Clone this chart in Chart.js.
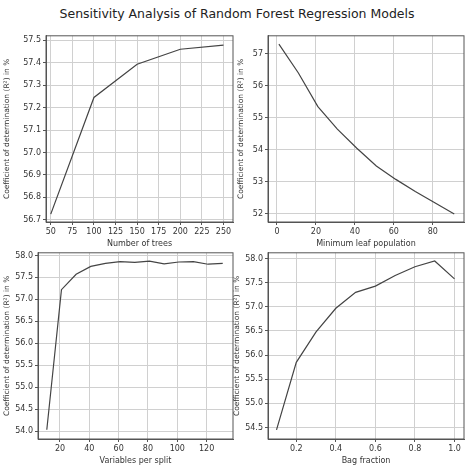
<!DOCTYPE html>
<html lang="en">
<head>
<meta charset="UTF-8">
<title>Sensitivity Analysis</title>
<script src="https://cdn.jsdelivr.net/npm/chart.js"></script>
<style>
  body { margin: 0; background: #fff; width: 474px; height: 467px; position: relative; overflow: hidden; font-family: "DejaVu Sans", sans-serif; }
  #title { position: absolute; top: 6px; left: 0; width: 474px; text-align: center; font-size: 12.5px; color: #222; }
  .panel { position: absolute; }
</style>
</head>
<body>
<div id="title">Sensitivity Analysis of Random Forest Regression Models</div>
<div class="panel" id="p1"><canvas id="c1"></canvas></div>
<div class="panel" id="p2"><canvas id="c2"></canvas></div>
<div class="panel" id="p3"><canvas id="c3"></canvas></div>
<div class="panel" id="p4"><canvas id="c4"></canvas></div>
<script>
// data
const treesX = [50, 100, 150, 200, 250];
const treesY = [56.725, 57.245, 57.393, 57.46, 57.478];

const leafX = [1, 11, 21, 31, 41, 51, 61, 71, 81, 91];
const leafY = [57.3, 56.4, 55.35, 54.65, 54.05, 53.5, 53.08, 52.7, 52.35, 52.0];

const varsX = [11, 21, 31, 41, 51, 61, 71, 81, 91, 101, 111, 121, 131];
const varsY = [54.03, 57.22, 57.57, 57.75, 57.82, 57.86, 57.84, 57.87, 57.81, 57.85, 57.86, 57.8, 57.82];

const bagX = [0.1, 0.2, 0.3, 0.4, 0.5, 0.6, 0.7, 0.8, 0.9, 1.0];
const bagY = [54.45, 55.85, 56.48, 56.97, 57.3, 57.43, 57.65, 57.83, 57.95, 57.58];

const yLabel = 'Coefficient of determination (R²) in %';

const boxPlugin = {
  id: 'box',
  afterDraw(chart) {
    const a = chart.chartArea, c = chart.ctx;
    c.save();
    c.strokeStyle = '#555';
    c.lineWidth = 1;
    c.strokeRect(a.left, a.top, a.right - a.left, a.bottom - a.top);
    c.restore();
  }
};

// every multiple of step inside the axis range
function onStep(step) {
  return function (axis) {
    const ticks = [];
    for (let k = Math.ceil(axis.min / step - 1e-9); k * step <= axis.max + 1e-9; k++) {
      ticks.push({ value: Math.round(k * step * 1e6) / 1e6 });
    }
    axis.ticks = ticks;
  };
}

function makePanel(id, canvasId, plot, yw, xs, ys, xOpt, yOpt, xTitle, yDigits) {
  const xh = 28;
  const el = document.getElementById(id);
  el.style.left = (plot.left - yw) + 'px';
  el.style.top = (plot.top - 3) + 'px';
  el.style.width = (plot.w + yw + 3) + 'px';
  el.style.height = (plot.h + xh + 3) + 'px';
  const tickFont = { family: 'DejaVu Sans', size: 8 };
  new Chart(document.getElementById(canvasId), {
    type: 'line',
    data: {
      datasets: [{
        data: xs.map((x, i) => ({ x: x, y: ys[i] })),
        borderColor: '#444',
        borderWidth: 1.2,
        pointRadius: 0,
        tension: 0
      }]
    },
    options: {
      responsive: true,
      maintainAspectRatio: false,
      animation: false,
      layout: { padding: { top: 3, right: 3 } },
      plugins: { legend: { display: false }, tooltip: { enabled: false } },
      scales: {
        x: {
          type: 'linear', min: xOpt.min, max: xOpt.max,
          afterBuildTicks: onStep(xOpt.step),
          afterFit: s => { s.height = xh; },
          ticks: { color: '#333', font: tickFont, maxRotation: 0, autoSkip: false, padding: 2,
                   callback: v => (xOpt.step < 1 ? v.toFixed(1) : String(v)) },
          grid: { color: '#d0d0d0', tickLength: 3, tickColor: '#555' },
          border: { color: '#555' },
          title: { display: true, text: xTitle, color: '#333', font: tickFont, padding: 1 }
        },
        y: {
          min: yOpt.min, max: yOpt.max,
          afterBuildTicks: onStep(yOpt.step),
          afterFit: s => { s.width = yw; },
          ticks: { color: '#333', font: tickFont, autoSkip: false, padding: 2,
                   callback: v => v.toFixed(yDigits) },
          grid: { color: '#d0d0d0', tickLength: 3, tickColor: '#555' },
          border: { color: '#555' },
          title: { display: true, text: yLabel, color: '#333', font: { family: 'DejaVu Sans', size: 7.5 }, padding: 1 }
        }
      }
    },
    plugins: [boxPlugin]
  });
}

makePanel('p1', 'c1', { left: 46, top: 32, w: 187, h: 190 }, 44, treesX, treesY,
  { min: 44.5, max: 261, step: 25 }, { min: 56.69, max: 57.52, step: 0.1 }, 'Number of trees', 1);
makePanel('p2', 'c2', { left: 268, top: 32, w: 196, h: 190 }, 32, leafX, leafY,
  { min: -4.6, max: 96, step: 20 }, { min: 51.75, max: 57.56, step: 1 }, 'Minimum leaf population', 0);
makePanel('p3', 'c3', { left: 38, top: 249, w: 195, h: 190 }, 36, varsX, varsY,
  { min: 5, max: 138, step: 20 }, { min: 53.82, max: 58.06, step: 0.5 }, 'Variables per split', 1);
makePanel('p4', 'c4', { left: 268, top: 249, w: 196, h: 190 }, 36, bagX, bagY,
  { min: 0.057, max: 1.048, step: 0.2 }, { min: 54.26, max: 58.12, step: 0.5 }, 'Bag fraction', 1);
</script>
</body>
</html>
